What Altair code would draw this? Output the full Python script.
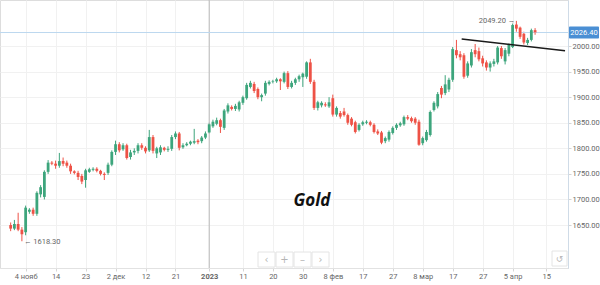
import altair as alt
import pandas as pd

# ---------------- data (bar index on a gap-free daily axis) ----------------
bar_index = list(range(1, 142))
opens = [1650,1643,1652,1641,1636,1676,1680,1672,1710,1705,1754,1772,1770,1766,1775,1772,1766,1755,1752,1746,
         1738,1754,1758,1760,1756,1750,1752,1768,1793,1808,1798,1806,1783,1792,1795,1806,1801,1796,1822,1790,
         1792,1801,1797,1799,1822,1829,1802,1806,1809,1811,1815,1814,1821,1831,1843,1848,1855,1840,1872,1881,
         1877,1876,1889,1898,1920,1926,1916,1900,1907,1926,1930,1931,1935,1930,1947,1920,1928,1935,1939,1940,
         1968,1930,1879,1884,1886,1882,1898,1866,1869,1872,1865,1858,1851,1836,1847,1850,1851,1846,1833,1831,
         1814,1817,1830,1840,1845,1847,1861,1859,1858,1852,1810,1816,1826,1875,1882,1918,1908,1915,1934,1992,
         1984,1982,1942,1962,1992,1990,1976,1968,1958,1965,1968,1996,1970,1985,1998,2042,2036,2024,2006,2012,
         2031]
highs = [1655,1660,1674,1646,1688,1683,1684,1716,1728,1757,1777,1775,1776,1791,1782,1776,1770,1757,1756,1750,
         1760,1762,1763,1763,1758,1753,1772,1796,1815,1812,1810,1809,1797,1800,1810,1810,1804,1836,1826,1803,
         1806,1803,1804,1826,1833,1832,1810,1812,1815,1838,1818,1824,1833,1850,1856,1860,1858,1877,1888,1884,
         1887,1893,1903,1928,1932,1930,1919,1907,1932,1933,1934,1938,1937,1950,1951,1932,1938,1944,1948,1970,
         1975,1934,1893,1892,1890,1900,1905,1882,1873,1879,1868,1861,1854,1849,1854,1855,1854,1849,1837,1834,
         1823,1835,1843,1849,1852,1864,1865,1862,1861,1856,1823,1836,1874,1892,1910,1922,1943,1938,1998,2012,
         1990,1986,1970,1994,2004,1997,1981,1972,1970,1975,2000,2000,1996,2005,2044,2049.2,2038,2028,2016,2034,
         2035]
lows = [1638,1640,1638,1618.3,1630,1672,1668,1668,1704,1700,1750,1767,1760,1762,1765,1762,1750,1749,1738,1730,
        1723,1752,1755,1753,1747,1738,1748,1765,1787,1792,1795,1778,1778,1787,1790,1797,1790,1793,1790,1781,
        1787,1794,1793,1795,1818,1796,1799,1804,1806,1808,1808,1810,1818,1829,1840,1845,1830,1836,1868,1874,
        1873,1872,1885,1895,1917,1908,1896,1892,1903,1923,1927,1928,1914,1927,1916,1917,1924,1930,1920,1936,
        1926,1875,1874,1880,1881,1879,1862,1862,1858,1862,1846,1843,1829,1833,1844,1847,1843,1829,1826,1808,
        1810,1813,1827,1836,1842,1844,1855,1850,1846,1805,1806,1813,1823,1872,1878,1898,1904,1910,1930,1976,
        1972,1936,1938,1958,1978,1970,1960,1952,1950,1960,1964,1975,1964,1980,1996,2028,2014,2003,2002,2009,
        2022]
closes = [1643,1652,1641,1632,1684,1680,1672,1713,1724,1754,1772,1770,1766,1775,1770,1766,1755,1752,1744,1735,
          1757,1759,1760,1756,1750,1748,1768,1793,1808,1796,1806,1781,1792,1795,1806,1801,1794,1822,1795,1800,
          1802,1797,1799,1822,1829,1801,1806,1809,1813,1814,1812,1821,1829,1847,1852,1855,1842,1874,1884,1877,
          1883,1890,1900,1924,1928,1912,1900,1904,1928,1930,1931,1935,1931,1947,1920,1928,1935,1941,1946,1968,
          1930,1879,1890,1889,1884,1890,1866,1879,1862,1865,1850,1846,1832,1846,1851,1852,1846,1832,1829,1811,
          1820,1832,1840,1846,1849,1861,1858,1853,1850,1807,1820,1832,1871,1889,1906,1905,1925,1934,1994,1982,
          1978,1940,1966,1988,1984,1974,1966,1958,1966,1970,1997,1980,1992,2002,2041,2034,2018,2007,2012,2031,
          2026.4]

tick_index = [5, 13, 21, 29, 37, 45, 54, 63, 71, 79, 87, 95, 103, 111, 119, 127, 135, 144]
tick_labels = ["4 нояб", "14", "23", "2 дек", "12", "21", "2023", "11", "20", "30",
               "8 фев", "17", "27", "8 мар", "17", "27", "5 апр", "15"]
price_ticks = [1650, 1700, 1750, 1800, 1850, 1900, 1950, 2000]
year_break = [54]
last_price = [2026.40]
trend_index = [121.4, 149.0]
trend_price = [2013.7, 1990.8]
chart_title = "Gold"

GREEN = "#3da57c"
RED = "#ee5246"

df = pd.DataFrame({"i": bar_index, "open": opens, "high": highs, "low": lows, "close": closes})
df["dir"] = ["up" if c >= o else "down" for o, c in zip(opens, closes)]

x_scale = alt.Scale(domain=[-0.51, 148.45], nice=False, zero=False)
y_scale = alt.Scale(domain=[1566, 2090], nice=False, zero=False)
color = alt.Color("dir:N", scale=alt.Scale(domain=["up", "down"], range=[GREEN, RED]), legend=None)

label_expr = ("[" + ",".join("'" + t + "'" for t in tick_labels) + "][indexof(["
              + ",".join(str(v) for v in tick_index) + "], datum.value)]")

x_axis = alt.Axis(values=tick_index, labelExpr=label_expr, title=None, grid=True,
                  gridColor="#f1f1f1", domainColor="#e2e2e2", tickColor="#d5d5d5", tickSize=3,
                  labelFontSize=7.5, labelColor="#666", labelPadding=1, labelFont="Roboto",
                  labelFontWeight={"condition": {"test": "datum.value == 54", "value": "bold"}, "value": "normal"})
y_axis = alt.Axis(orient="right", values=price_ticks, format=".2f", title=None, grid=True,
                  gridColor="#f1f1f1", domainColor="#cfdbe7", tickColor="#d5d5d5", tickSize=3,
                  labelFontSize=7.5, labelColor="#666", labelPadding=1, labelFont="Roboto")


def X(field):
    return alt.X(field, scale=x_scale, axis=x_axis, title=None)


def Y(field):
    return alt.Y(field, scale=y_scale, axis=y_axis, title=None)


base = alt.Chart(df)
wicks = base.mark_rule(strokeWidth=1).encode(x=X("i:Q"), y=Y("low:Q"), y2="high:Q", color=color)
bodies = base.mark_bar(size=2.8).encode(x=X("i:Q"), y=Y("open:Q"), y2="close:Q", color=color)

year_rule = alt.Chart(pd.DataFrame({"i": year_break})).mark_rule(color="#b8b8b8", strokeWidth=1).encode(
    x=X("i:Q"))

price_line = alt.Chart(pd.DataFrame({"i": last_price})).mark_rule(color="#bcd8ef", strokeWidth=1).encode(
    y=Y("i:Q"))

trend = alt.Chart(pd.DataFrame({"i": trend_index, "p": trend_price})).mark_line(
    color="#1a1a1a", strokeWidth=1.6, clip=False).encode(x=X("i:Q"), y=Y("p:Q"))

lo_pos = lows.index(min(lows))
hi_pos = highs.index(max(highs))
low_df = pd.DataFrame({"i": [bar_index[lo_pos]], "p": [lows[lo_pos]], "t": ["← %.2f" % lows[lo_pos]]})
high_df = pd.DataFrame({"i": [bar_index[hi_pos]], "p": [highs[hi_pos]], "t": ["%.2f →" % highs[hi_pos]]})

low_txt = alt.Chart(low_df).mark_text(align="left", baseline="middle", dx=2, dy=1, fontSize=7.5,
                                      color="#666", font="Roboto").encode(x=X("i:Q"), y=Y("p:Q"), text="t:N")
high_txt = alt.Chart(high_df).mark_text(align="right", baseline="middle", dx=-1, dy=0, fontSize=7.5,
                                        color="#666", font="Roboto").encode(x=X("i:Q"), y=Y("p:Q"), text="t:N")

tag_df = pd.DataFrame({"p": last_price, "t": ["%.2f" % v for v in last_price]})
tag_box = alt.Chart(tag_df).mark_rect(color="#4a8fd4", yOffset=-6, y2Offset=6, cornerRadius=1).encode(
    x=alt.value(569), x2=alt.value(599), y=Y("p:Q"), y2="p:Q")
tag_txt = alt.Chart(tag_df).mark_text(color="white", fontSize=7.5, font="Roboto", align="center",
                                      baseline="middle").encode(x=alt.value(584), y=Y("p:Q"), text="t:N")

title_txt = alt.Chart(pd.DataFrame({"t": [chart_title]})).mark_text(
    font="Open Sans", fontSize=17, fontWeight="bold", fontStyle="italic", color="#111",
    align="center", baseline="middle").encode(x=alt.value(312), y=alt.value(201), text="t:N")

# navigation buttons (chart UI chrome)
btn_layers = []
btn_syms = ["‹", "+", "–", "›"]
for k, s in enumerate(btn_syms):
    x0 = 258 + 18 * k
    btn_layers.append(alt.Chart(pd.DataFrame({"t": [s]})).mark_rect(
        fill="white", stroke="#e4e4e4", strokeWidth=1).encode(
        x=alt.value(x0), x2=alt.value(x0 + 17), y=alt.value(252), y2=alt.value(267)))
    btn_layers.append(alt.Chart(pd.DataFrame({"t": [s]})).mark_text(
        fontSize=10, color="#b5b5b5", align="center", baseline="middle", font="DejaVu Sans").encode(
        x=alt.value(x0 + 8.5), y=alt.value(259.5), text="t:N"))
btn_layers.append(alt.Chart(pd.DataFrame({"t": ["↺"]})).mark_rect(
    fill="white", stroke="#e4e4e4", strokeWidth=1).encode(
    x=alt.value(552), x2=alt.value(567), y=alt.value(251), y2=alt.value(266)))
btn_layers.append(alt.Chart(pd.DataFrame({"t": ["↺"]})).mark_text(
    fontSize=9, color="#b5b5b5", align="center", baseline="middle", font="DejaVu Sans").encode(
    x=alt.value(559.5), y=alt.value(258.5), text="t:N"))

chart = alt.layer(
    wicks, year_rule, price_line, bodies, trend, low_txt, high_txt, *btn_layers, title_txt, tag_box, tag_txt
).properties(
    width=568, height=268,
    padding={"left": 0, "top": 0, "right": 32, "bottom": 17},
    autosize=alt.AutoSizeParams(type="none"),
).configure_view(stroke=None).configure(background="white")

chart.save("out.html", embed_options={"renderer": "svg", "actions": False})
